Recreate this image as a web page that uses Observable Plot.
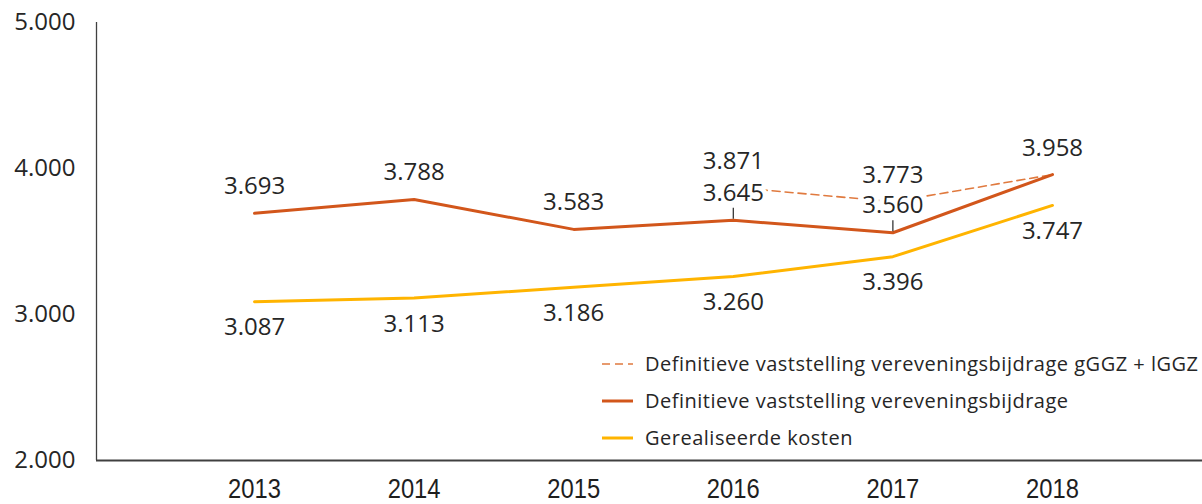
<!DOCTYPE html>
<html>
<head>
<meta charset="utf-8">
<script src="https://cdn.jsdelivr.net/npm/d3@7"></script>
<script src="https://cdn.jsdelivr.net/npm/@observablehq/plot@0.6"></script>
<style>
  html, body { margin: 0; padding: 0; background: #fff; }
  #wrap { position: relative; width: 1202px; height: 504px; overflow: hidden; }
  #legend { position: absolute; left: 602px; top: 345px; font-family: "Open Sans", "Noto Sans", sans-serif; font-size: 20px; letter-spacing: 0.5px; color: #262626; }
  #legend .row { display: flex; align-items: center; height: 37px; white-space: nowrap; }
  #legend svg { margin-right: 12px; }
</style>
</head>
<body>
<div id="wrap"></div>
<script>
const years = [2013, 2014, 2015, 2016, 2017, 2018];
const gerealiseerdeKosten = [3087, 3113, 3186, 3260, 3396, 3747];
const vereveningsbijdrage = [3693, 3788, 3583, 3645, 3560, 3958];
const ggzYears = [2016, 2017, 2018];
const vereveningsbijdrageGgz = [3871, 3773, 3958];
const yTicks = [2000, 3000, 4000, 5000];

const seriesNames = [
  "Definitieve vaststelling vereveningsbijdrage gGGZ + lGGZ",
  "Definitieve vaststelling vereveningsbijdrage",
  "Gerealiseerde kosten"
];
const colors = { ggz: "#E07A3F", solid: "#D2561B", yellow: "#FFB400" };

const fmt = v => d3.format(",")(v).replace(/,/g, ".");

const kosten = years.map((year, i) => ({ year, value: gerealiseerdeKosten[i] }));
const vb = years.map((year, i) => ({ year, value: vereveningsbijdrage[i] }));
const ggz = ggzYears.map((year, i) => ({ year, value: vereveningsbijdrageGgz[i] }));
const leaders = vb.filter(d => ggz.some(g => g.year === d.year && g.value !== d.value));

const labelFont = "'Open Sans', 'Noto Sans', sans-serif";

const chart = Plot.plot({
  width: 1202,
  height: 504,
  marginLeft: 96,
  marginRight: 0,
  marginTop: 22,
  marginBottom: 44,
  style: { fontFamily: labelFont, fontSize: "24px", color: "#262626", background: "#fff" },
  x: { type: "linear", domain: [2012.01, 2018.94], axis: null },
  y: { domain: [2000, 5000], axis: null },
  marks: [
    Plot.axisY({ ticks: yTicks, tickFormat: fmt, tickSize: 0, tickPadding: 21, fontSize: 24, fontFamily: labelFont, fill: "#262626", label: null }),
    Plot.axisX({ ticks: years, tickFormat: d => String(d), tickSize: 0, tickPadding: 18, fontSize: 27,
      fontFamily: "'Liberation Sans', Arial, sans-serif", fill: "#1e1e1e", label: null }),
    Plot.ruleX([2012.01], { stroke: "#404040", strokeWidth: 1.3, y1: 2000, y2: 5000 }),
    Plot.ruleY([2000], { stroke: "#404040", strokeWidth: 2 }),
    Plot.line(ggz, { x: "year", y: "value", stroke: colors.ggz, strokeWidth: 1.6, strokeDasharray: "8,5" }),
    Plot.line(vb, { x: "year", y: "value", stroke: colors.solid, strokeWidth: 3 }),
    Plot.line(kosten, { x: "year", y: "value", stroke: colors.yellow, strokeWidth: 3 }),
    Plot.text(vb, { x: "year", y: "value", text: d => fmt(d.value), dy: -27, fontSize: 24, fontFamily: labelFont,
      fill: "#262626", stroke: "white", strokeWidth: 10, strokeLinejoin: "round" }),
    Plot.text(ggz, { x: "year", y: "value", text: d => fmt(d.value), dy: -26, fontSize: 24, fontFamily: labelFont,
      fill: "#262626", stroke: "white", strokeWidth: 10, strokeLinejoin: "round" }),
    Plot.text(kosten, { x: "year", y: "value", text: d => fmt(d.value), dy: 26, fontSize: 24, fontFamily: labelFont,
      fill: "#262626", stroke: "white", strokeWidth: 10, strokeLinejoin: "round" }),
    Plot.ruleX(leaders, { x: "year", y1: "value", y2: "value", insetTop: -12, insetBottom: 1, stroke: "#262626", strokeWidth: 1.2 })
  ]
});

// condense the year labels (narrow font in the original)
const yearStrings = new Set(years.map(String));
chart.querySelectorAll("text").forEach(t => {
  if (yearStrings.has(t.textContent.trim())) {
    const tr = t.getAttribute("transform") || "";
    t.setAttribute("transform", tr + " scale(0.88,1)");
  }
});

const wrap = document.getElementById("wrap");
wrap.appendChild(chart);

const legend = document.createElement("div");
legend.id = "legend";
const swatches = [
  { color: colors.ggz, dash: "8,5", width: 1.6 },
  { color: colors.solid, dash: null, width: 3 },
  { color: colors.yellow, dash: null, width: 3 }
];
seriesNames.forEach((name, i) => {
  const row = document.createElement("div");
  row.className = "row";
  const s = swatches[i];
  row.innerHTML = `<svg width="31" height="6"><line x1="0" x2="31" y1="3" y2="3" stroke="${s.color}" stroke-width="${s.width}" ${s.dash ? `stroke-dasharray="${s.dash}"` : ""}/></svg><span>${name}</span>`;
  legend.appendChild(row);
});
wrap.appendChild(legend);
</script>
</body>
</html>
